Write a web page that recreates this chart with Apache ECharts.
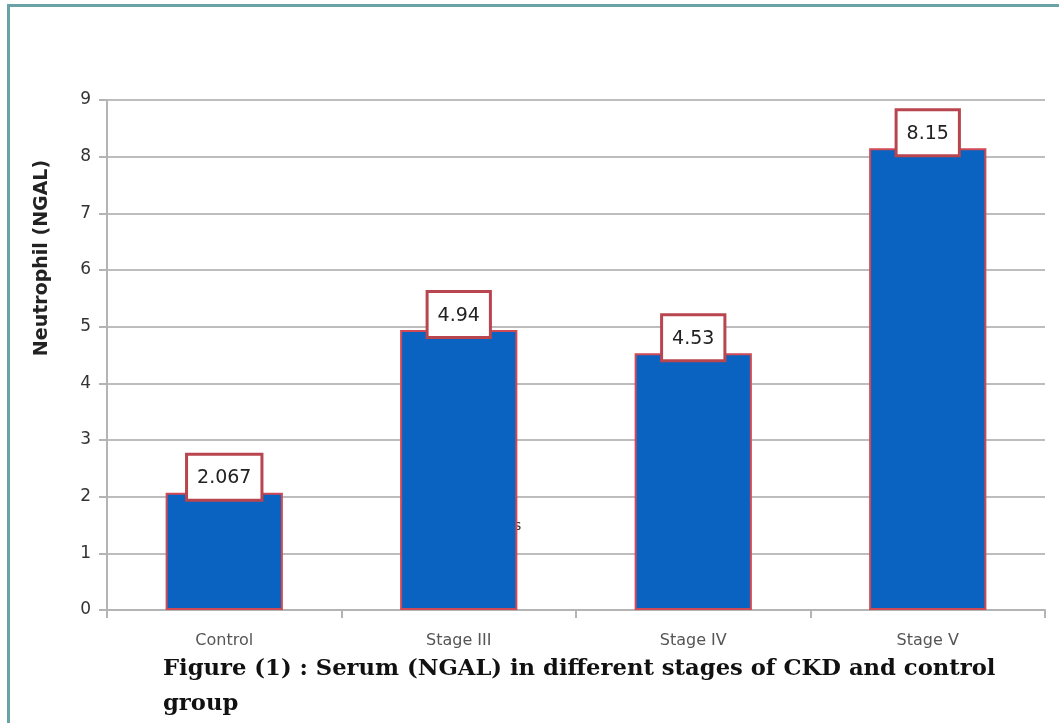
<!DOCTYPE html>
<html>
<head>
<meta charset="utf-8">
<script src="https://cdn.jsdelivr.net/npm/echarts@6/dist/echarts.min.js"></script>
<style>
  html, body { margin: 0; padding: 0; background: #fff; }
  #chart { width: 1059px; height: 723px; }
</style>
</head>
<body>
<div id="chart"></div>
<script>
const categories = ['Control', 'Stage III', 'Stage IV', 'Stage V'];
const ngalValues = [2.067, 4.94, 4.53, 8.15];
const valueLabels = ['2.067', '4.94', '4.53', '8.15'];

const chart = echarts.init(document.getElementById('chart'));

chart.setOption({
  animation: false,
  backgroundColor: '#fff',
  grid: { left: 107, right: 14, top: 100, bottom: 113 },
  xAxis: {
    type: 'category',
    data: categories,
    axisLine: { lineStyle: { color: '#b4b4b4', width: 2 } },
    axisTick: { show: true, length: 8, lineStyle: { color: '#b4b4b4', width: 2 } },
    axisLabel: {
      margin: 23,
      color: '#555',
      fontSize: 16,
      fontFamily: 'DejaVu Sans'
    }
  },
  yAxis: {
    type: 'value',
    min: 0,
    max: 9,
    interval: 1,
    axisLine: { show: true, lineStyle: { color: '#b4b4b4', width: 2 } },
    axisTick: { show: true, length: 8, lineStyle: { color: '#b4b4b4', width: 2 } },
    axisLabel: {
      margin: 16,
      color: '#333',
      fontSize: 17,
      fontFamily: 'DejaVu Sans'
    },
    splitLine: { lineStyle: { color: '#bdbdbd', width: 2 } }
  },
  series: [{
    type: 'bar',
    data: ngalValues,
    barWidth: '50%',
    itemStyle: {
      color: '#0b63c1',
      borderColor: '#cf4a55',
      borderWidth: 2
    },
    label: {
      show: true,
      position: 'top',
      distance: -6,
      formatter: p => valueLabels[p.dataIndex],
      color: '#222',
      fontSize: 19,
      fontFamily: 'DejaVu Sans',
      backgroundColor: '#fff',
      borderColor: '#b9454f',
      borderWidth: 3,
      padding: [13, 9, 11, 9]
    }
  }],
  graphic: [
    {
      type: 'rect',
      shape: { x: 8, y: 4, width: 1051, height: 3 },
      style: { fill: '#6aa3a6' }
    },
    {
      type: 'rect',
      shape: { x: 7, y: 4, width: 3, height: 719 },
      style: { fill: '#6aa3a6' }
    },
    {
      type: 'text',
      x: 42,
      y: 258,
      rotation: Math.PI / 2,
      style: {
        text: 'Neutrophil (NGAL)',
        fill: '#222',
        font: 'bold 19px "DejaVu Sans"',
        align: 'center',
        verticalAlign: 'middle'
      }
    },
    {
      type: 'text',
      x: 514,
      y: 519,
      style: {
        text: 's',
        fill: '#333',
        font: '14px "DejaVu Sans"'
      }
    },
    {
      type: 'text',
      x: 163,
      y: 652,
      style: {
        text: 'Figure (1) : Serum (NGAL) in different stages of CKD and control\ngroup',
        fill: '#111',
        font: 'bold 22.7px "DejaVu Serif"',
        lineHeight: 35
      }
    }
  ]
});
</script>
</body>
</html>
